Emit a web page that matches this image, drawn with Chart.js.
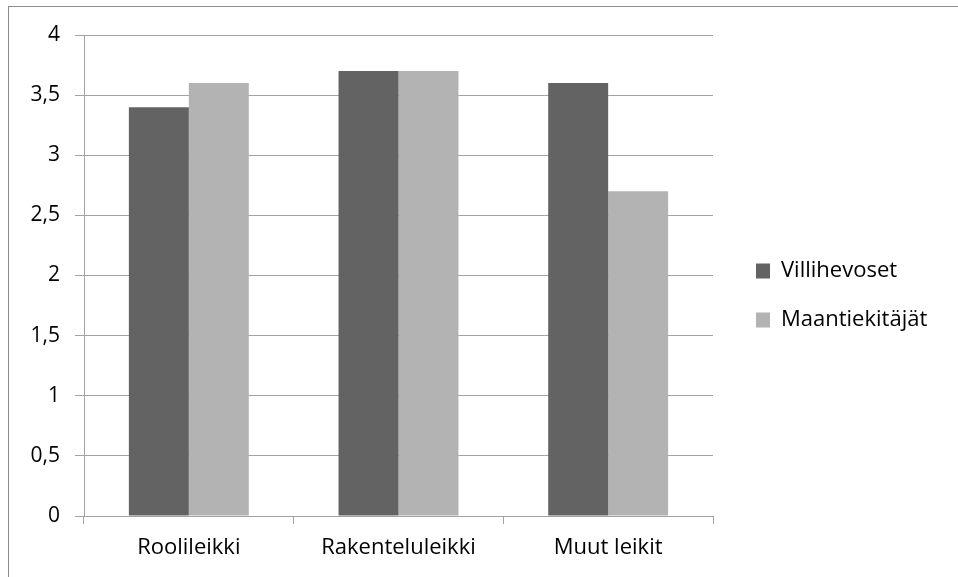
<!DOCTYPE html>
<html>
<head>
<meta charset="utf-8">
<script src="https://cdn.jsdelivr.net/npm/chart.js@4.4.1/dist/chart.umd.min.js"></script>
<style>
  html, body { margin: 0; padding: 0; background: #fff; }
  #wrap { position: relative; width: 958px; height: 577px; overflow: hidden; }
  #frame {
    position: absolute; left: 8px; top: 6px; width: 1000px; height: 700px;
    border-left: 1px solid #8c8c8c; border-top: 1px solid #8c8c8c;
  }
  canvas { position: absolute; left: 0; top: 0; }
</style>
</head>
<body>
<div id="wrap">
  <div id="frame"></div>
  <canvas id="chart" width="958" height="577"></canvas>
</div>
<script>
// Leikkityypit ja ryhmien keskiarvot
const categories = ['Roolileikki', 'Rakenteluleikki', 'Muut leikit'];
const seriesNames = ['Villihevoset', 'Maantiekitäjät'];
const villihevoset = [3.4, 3.7, 3.6];
const maantiekitajat = [3.6, 3.7, 2.7];
const yTickLabels = ['0', '0,5', '1', '1,5', '2', '2,5', '3', '3,5', '4'];

const FONT = 'Open Sans';
const xFontSize = 22;
const yFontSize = 21;
const legendFontSize = 22;
const legendBox = 14;
const legendPad = 49 - legendFontSize;   // rows 49px apart
const plotRight = 713;
const legendShift = { x: 16, y: 20 };    // legend sits a little right of and below its layout slot

const gridColor = '#a3a3a3';

// moves the legend inside its slot after layout
const legendOffset = {
  id: 'legendOffset',
  afterLayout(chart) {
    const lg = chart.legend;
    if (!lg) return;
    lg.left += legendShift.x; lg.right += legendShift.x;
    lg.top += legendShift.y; lg.bottom += legendShift.y;
  }
};

function build() {
  // legend width as the library computes it, so the plot ends at plotRight
  const mctx = document.createElement('canvas').getContext('2d');
  mctx.font = legendFontSize + 'px ' + FONT;
  const maxText = Math.max(...seriesNames.map(n => mctx.measureText(n).width));
  const legendWidth = legendPad + legendBox + legendFontSize / 2 + maxText + 10;
  const rightPad = Math.max(0, 958 - plotRight - legendWidth);

  new Chart(document.getElementById('chart'), {
    type: 'bar',
    data: {
      labels: categories,
      datasets: [
        { label: seriesNames[0], data: villihevoset, backgroundColor: '#636363' },
        { label: seriesNames[1], data: maantiekitajat, backgroundColor: '#b3b3b3' }
      ]
    },
    plugins: [legendOffset],
    options: {
      responsive: false,
      animation: false,
      events: [],
      layout: { padding: { left: 0, top: 35, right: rightPad, bottom: 0 } },
      datasets: { bar: { barPercentage: 1, categoryPercentage: 0.572 } },
      plugins: {
        tooltip: { enabled: false },
        legend: {
          position: 'right',
          align: 'center',
          fullSize: false,
          labels: {
            boxWidth: legendBox,
            boxHeight: 15,
            padding: legendPad,
            color: '#000',
            font: { family: FONT, size: legendFontSize }
          }
        }
      },
      scales: {
        x: {
          grid: {
            display: true, offset: true, drawOnChartArea: false, drawTicks: true,
            tickLength: 8, color: gridColor
          },
          border: { display: true, color: gridColor },
          ticks: { color: '#000', padding: 11, font: { family: FONT, size: xFontSize } },
          afterFit: s => { s.height = 577 - 516; }
        },
        y: {
          min: 0, max: 4,
          grid: { color: gridColor, tickLength: 9 },
          border: { display: true, color: gridColor },
          ticks: {
            stepSize: 0.5,
            padding: 15,
            color: '#000',
            font: { family: FONT, size: yFontSize },
            callback: (v, i) => yTickLabels[i]
          },
          afterFit: s => { s.width = 84; }
        }
      }
    }
  });
}

const ready = document.fonts && document.fonts.load
  ? document.fonts.load(legendFontSize + 'px "' + FONT + '"').catch(() => {})
  : Promise.resolve();
ready.then(build);
</script>
</body>
</html>
